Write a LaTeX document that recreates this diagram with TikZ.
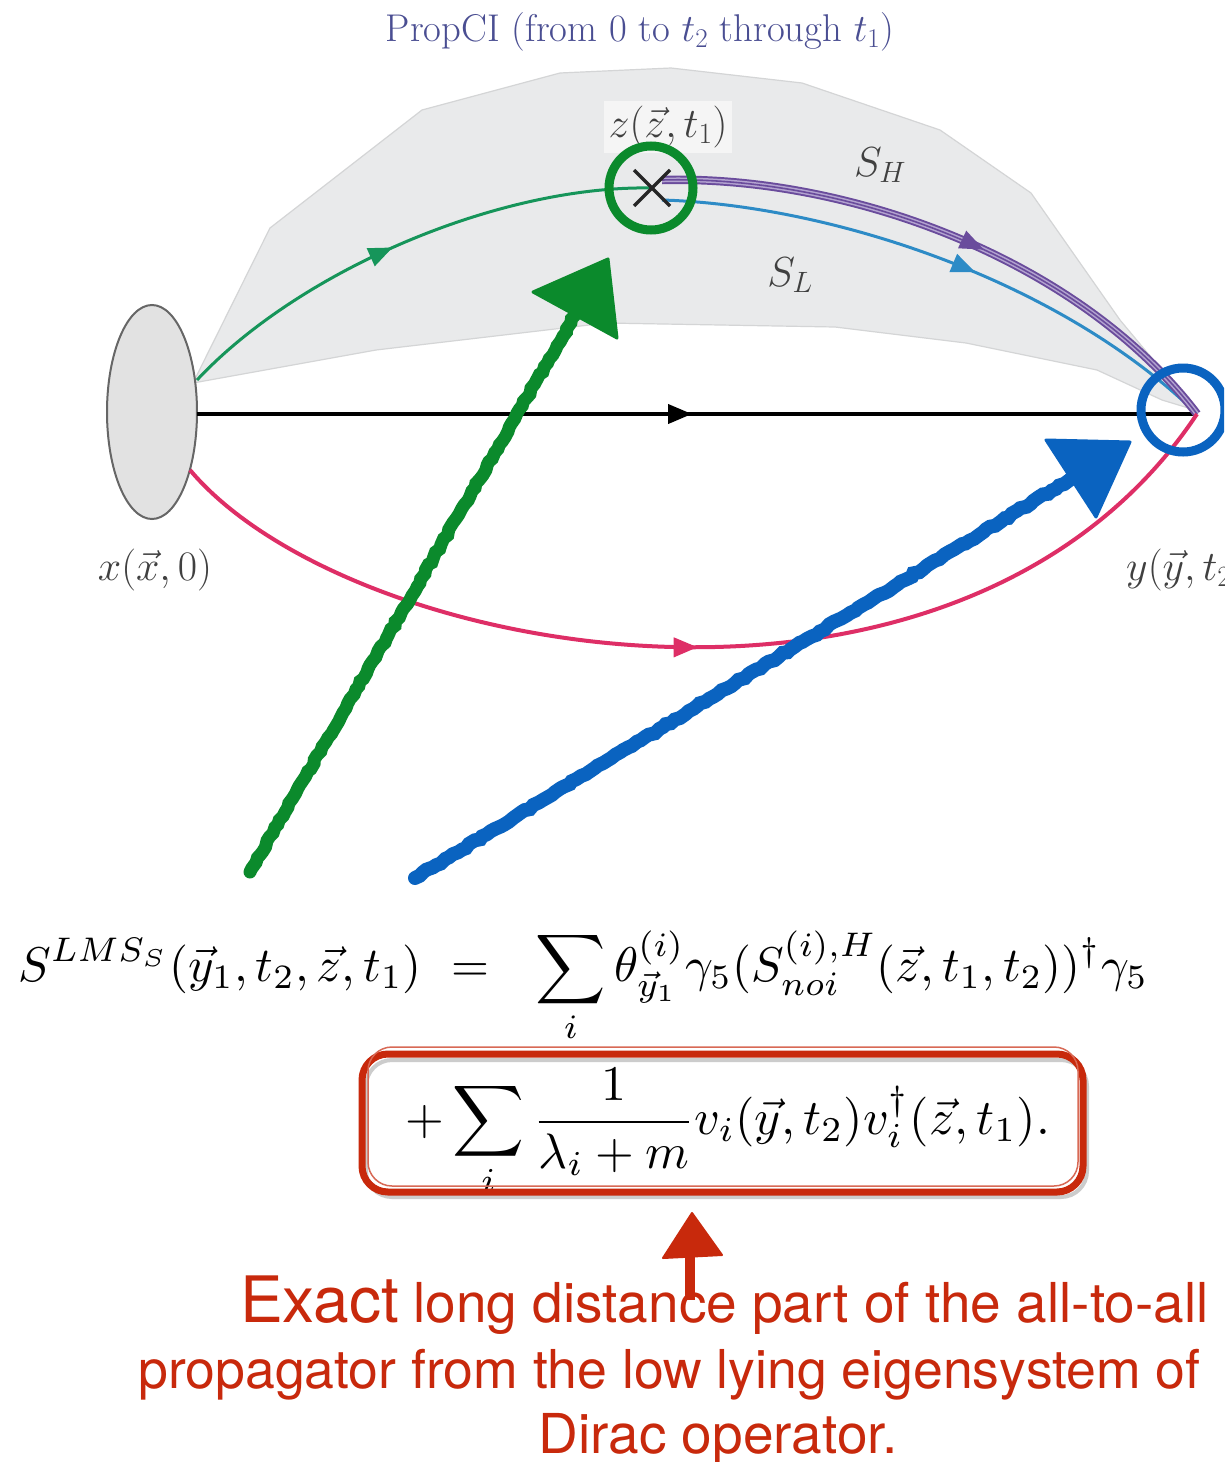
\RequirePackage{fix-cm}
\documentclass[tikz,border=0pt]{standalone}
\usepackage{fontspec}
\newfontfamily\helv{TeX Gyre Heros}
\usepackage{amsmath}
\usetikzlibrary{arrows.meta,decorations.markings,decorations.pathmorphing,shapes.geometric}
\definecolor{regiongray}{HTML}{E9EAEB}
\definecolor{regionedge}{HTML}{D4D5D6}
\definecolor{ellgray}{HTML}{E2E2E2}
\definecolor{titleblue}{HTML}{4A4E92}
\definecolor{pathgreen}{HTML}{16955A}
\definecolor{pathpurple}{HTML}{6A4C9C}
\definecolor{pathlav}{HTML}{B3A3D0}
\definecolor{pathblue}{HTML}{2D8BC6}
\definecolor{pathpink}{HTML}{DE2E66}
\definecolor{markgreen}{HTML}{0B8A2C}
\definecolor{markblue}{HTML}{0A63C0}
\definecolor{markred}{HTML}{C8290C}
\tikzset{
  midarrow/.style={postaction={decorate},decoration={markings,
      mark=at position #1 with {\arrow{Triangle[length=24pt,width=19pt]}}}},
  lbl/.style={inner sep=0pt, font=\fontsize{42}{48}\selectfont},
  rough/.style={decorate, decoration={random steps,segment length=5pt,amplitude=1.2pt}},
  redtext/.style={inner sep=0pt, text=markred, font=\helv}
}
\begin{document}
\begin{tikzpicture}[x=1pt,y=-1pt]
\useasboundingbox (0,0) rectangle (1224,1462);
\clip (0,0) rectangle (1224,1462);
\fill[white] (0,0) rectangle (1224,1462);

% shaded region
\filldraw[fill=regiongray, draw=regionedge, line width=1.2pt]
  (193,383) -- (270,228) -- (422,110) -- (560,73) -- (671,68) -- (802,83)
  -- (940,130) -- (1031,193) -- (1120,320) -- (1195,410)
  -- (1162,400) -- (1097,370) -- (966,343) -- (835,327) -- (606,323)
  -- (376,350) -- cycle;

% named points
\coordinate (gs) at (197,380);
\coordinate (ks) at (197,414);
\coordinate (ps) at (190,470);
\coordinate (z) at (652,188);
\coordinate (hs) at (662,180);
\coordinate (ls) at (662,200);
\coordinate (y) at (1197,414);

% source ellipse
\node[ellipse, draw=black!60, fill=ellgray, line width=2pt, minimum width=90pt,
      minimum height=214pt, inner sep=0pt] (src) at (152,412) {};

% black line
\draw[black, line width=4pt, midarrow=0.495] (ks) -- (y);
% green curve
\draw[pathgreen, line width=3pt, midarrow=0.47] (gs) .. controls (300,270) and (500,185) .. (z);
% blue S_L
\draw[pathblue, line width=3pt, midarrow=0.55] (ls) .. controls (830,205) and (1060,280) .. (y);
% purple S_H triple line
\draw[pathpurple, line width=8.5pt] (hs) .. controls (850,175) and (1080,260) .. (y);
\draw[pathlav, line width=4.6pt] (hs) .. controls (850,175) and (1080,260) .. (y);
\draw[pathpurple, line width=1.6pt, midarrow=0.55] (hs) .. controls (850,175) and (1080,260) .. (y);
% pink curve
\draw[pathpink, line width=4pt, midarrow=0.49] (ps) .. controls (350,660) and (960,770) .. (y);

% cross at z
\draw[black!85, line width=3.5pt] (634,170) -- (670,206) (670,170) -- (634,206);

% labels
\node[lbl, titleblue] (title) at (640,32) {\resizebox{508pt}{!}{PropCI (from 0 to $t_2$ through $t_1$)}};
\node[lbl, fill=white, fill opacity=0.55, text opacity=1, inner sep=5pt, text=black!75] (zl) at (668,127) {$z(\vec z,t_1)$};
\node[lbl, text=black!75] (sh) at (880,165) {$S_H$};
\node[lbl, text=black!75] (sl) at (790,275) {$S_L$};
\node[lbl, text=black!75] (xl) at (155,570) {$x(\vec x,0)$};
\node[lbl, text=black!75, anchor=west] (yl) at (1126,570) {$y(\vec y,t_2)$};

% circles
\node[circle, draw=markgreen, line width=9pt, minimum size=84pt, inner sep=0pt] (gc) at (651,188) {};
\node[circle, draw=markblue, line width=9pt, minimum size=84pt, inner sep=0pt] (bc) at (1183,410) {};

% hand-drawn green arrow
\coordinate (gt) at (250,872);
\coordinate (gb) at (575,315);
\coordinate (g1) at (533,292);
\coordinate (g2) at (608,259);
\coordinate (g3) at (617,338);
\draw[markgreen, line width=13pt, line cap=round, rough] (gt) -- (gb);
\filldraw[markgreen, line width=3pt, line join=round] (g1) -- (g2) -- (g3) -- cycle;

% hand-drawn blue arrow
\coordinate (bt) at (415,878);
\coordinate (bb) at (1072,478);
\coordinate (b1) at (1046,440);
\coordinate (b2) at (1130,442);
\coordinate (b3) at (1096,517);
\draw[markblue, line width=14pt, line cap=round, rough] (bt) -- (bb);
\filldraw[markblue, line width=3pt, line join=round] (b1) -- (b2) -- (b3) -- cycle;

% equation
\node[anchor=north west, inner sep=0pt] (eq1) at (18,930)
 {\resizebox{1130pt}{!}{$\displaystyle S^{LMS_S}(\vec y_1,t_2,\vec z,t_1)\ =\ \ \sum_i\theta^{(i)}_{\vec y_1}\gamma_5(S^{(i),H}_{noi}(\vec z,t_1,t_2))^\dagger\gamma_5$}};
\node[anchor=north west, inner sep=0pt] (eq2) at (405,1068)
 {\resizebox{645pt}{!}{$\displaystyle +\sum_i\frac{1}{\lambda_i+m}v_i(\vec y,t_2)v_i^\dagger(\vec z,t_1).$}};

% red box
\coordinate (rb1) at (362,1054);
\coordinate (rb2) at (1083,1192);
\draw[black!20, line width=4pt, rounded corners=26pt] (366,1060) rectangle (1087,1197);
\draw[markred, line width=7pt, rounded corners=26pt] (rb1) rectangle (rb2);
\draw[markred!70, line width=1.5pt, rounded corners=24pt] (368,1047) rectangle (1078,1186);

% red arrow
\coordinate (rt) at (690,1300);
\coordinate (rbase) at (690,1254);
\coordinate (r1) at (663,1258);
\coordinate (r2) at (692,1213);
\coordinate (r3) at (722,1255);
\draw[markred, line width=10pt] (rt) -- (rbase);
\filldraw[markred, line width=2pt, line join=round] (r1) -- (r2) -- (r3) -- cycle;

% bottom text
\node[redtext, anchor=base west] (t1) at (240,1322)
 {{\fontsize{64}{70}\selectfont Exact}\hspace{14pt}\fontsize{55}{60}\selectfont long distance part of the all-to-all};
\node[redtext, anchor=base west, font=\helv\fontsize{53.6}{60}\selectfont] (t2) at (138,1388)
 {propagator from the low lying eigensystem of};
\node[redtext, anchor=base, font=\helv\fontsize{55}{60}\selectfont] (t3) at (718,1453)
 {Dirac operator.};
\end{tikzpicture}
\end{document}
